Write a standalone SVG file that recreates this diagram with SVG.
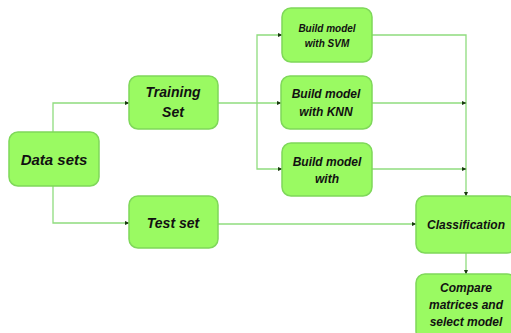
<svg xmlns="http://www.w3.org/2000/svg" width="511" height="333" viewBox="0 0 511 333">
<style>
.box{fill:#9afa62;stroke:#7fd85a;stroke-width:1.5}
.t{font-family:"Liberation Sans","Open Sans",sans-serif;font-style:italic;font-weight:bold;fill:#111;text-anchor:middle}
.ln{fill:none;stroke:#8fdc7e;stroke-width:1.3}
</style>
<defs>
<marker id="a" markerWidth="5" markerHeight="5" refX="4" refY="2.5" orient="auto" markerUnits="userSpaceOnUse">
<path d="M0,0.5 L4.5,2.5 L0,4.5 Z" fill="#1a3a10"/>
</marker>
</defs>
<rect width="511" height="333" fill="#fff"/>
<g id="connectors">
<path class="ln" d="M53,132 V103 H129" marker-end="url(#a)"/>
<path class="ln" d="M53,186 V223 H129" marker-end="url(#a)"/>
<path class="ln" d="M218,103 H281" marker-end="url(#a)"/>
<path class="ln" d="M257,103 V35 H282" marker-end="url(#a)"/>
<path class="ln" d="M257,103 V169 H282" marker-end="url(#a)"/>
<path class="ln" d="M372,35 H466 V196" marker-end="url(#a)"/>
<path class="ln" d="M372,103 H466" marker-end="url(#a)"/>
<path class="ln" d="M372,169 H466" marker-end="url(#a)"/>
<path class="ln" d="M218,224 H416" marker-end="url(#a)"/>
<path class="ln" d="M466,253 V274" marker-end="url(#a)"/>
</g>
<g id="datasets"><rect class="box" x="9" y="132" width="90" height="54" rx="9"/><text class="t" x="54" y="165" font-size="15">Data sets</text></g>
<g id="training"><rect class="box" x="129" y="76" width="89" height="53" rx="9"/><text class="t" x="173" y="97" font-size="14">Training</text><text class="t" x="173" y="117" font-size="14">Set</text></g>
<g id="testset"><rect class="box" x="129" y="196" width="89" height="52" rx="9"/><text class="t" x="173" y="228" font-size="14">Test set</text></g>
<g id="svm"><rect class="box" x="282" y="8" width="90" height="54" rx="9"/><text class="t" x="327" y="32" font-size="10">Build model</text><text class="t" x="327" y="47" font-size="10">with SVM</text></g>
<g id="knn"><rect class="box" x="281" y="76" width="91" height="53" rx="9"/><text class="t" x="326" y="98" font-size="12">Build model</text><text class="t" x="326" y="116" font-size="12">with KNN</text></g>
<g id="other"><rect class="box" x="282" y="143" width="90" height="53" rx="9"/><text class="t" x="327" y="166" font-size="12">Build model</text><text class="t" x="327" y="183" font-size="12">with</text></g>
<g id="classification"><rect class="box" x="416" y="196" width="100" height="57" rx="9"/><text class="t" x="466" y="229" font-size="12">Classification</text></g>
<g id="compare"><rect class="box" x="416" y="274" width="100" height="66" rx="9"/><text class="t" x="466" y="292" font-size="12">Compare</text><text class="t" x="466" y="309" font-size="12">matrices and</text><text class="t" x="466" y="326" font-size="12">select model</text></g>
</svg>
